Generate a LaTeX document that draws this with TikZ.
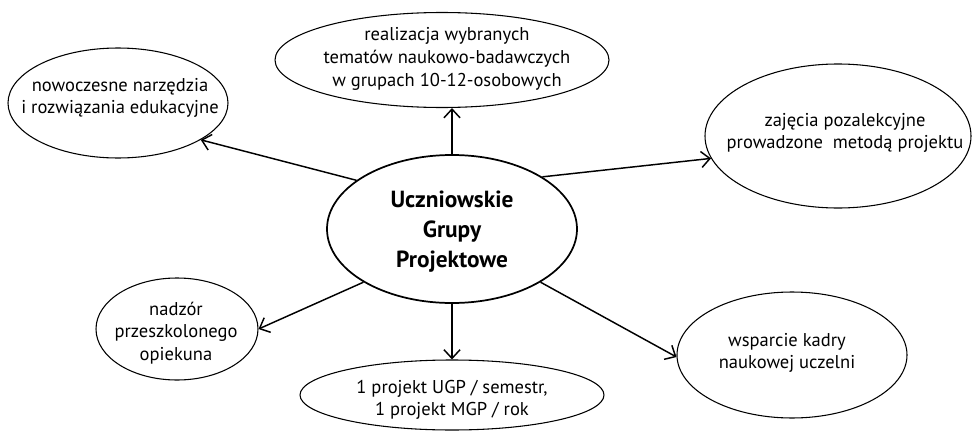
\documentclass[tikz,border=0pt]{standalone}
\usepackage{fontspec}
\setmainfont{PT Sans}
\usetikzlibrary{shapes.geometric,arrows.meta}
\tikzset{
  oval/.style={draw, ellipse, line width=0.8pt, inner sep=0pt},
  lbl/.style={align=center, font=\fontsize{13.9}{17}\selectfont, inner sep=0pt},
  arr/.style={-{Straight Barb[length=6.5pt,width=12pt]}, line width=1.1pt},
}
\begin{document}
\begin{tikzpicture}[x=0.75pt,y=-0.75pt]
\useasboundingbox[fill=white] (0,0) rectangle (975,432);
% ellipses
\node[oval, line width=1.3pt, minimum width=187.5pt, minimum height=111pt] (c) at (452,229) {};
\node[oval, minimum width=165pt, minimum height=82.5pt] (nw) at (118,103) {};
\node[oval, minimum width=250.5pt, minimum height=71.25pt] (top) at (442,60) {};
\node[oval, minimum width=199.5pt, minimum height=108pt] (ze) at (838,136) {};
\node[oval, minimum width=172.5pt, minimum height=94.5pt] (ws) at (792,355) {};
\node[oval, minimum width=121.5pt, minimum height=76.5pt] (nd) at (177,329) {};
\node[oval, minimum width=228pt, minimum height=52.5pt] (bt) at (452,395) {};
% texts
\node[align=center, font=\bfseries\fontsize{17.5}{22.5}\selectfont, inner sep=0pt] (ct) at (452,232) {Uczniowskie\\Grupy\\Projektowe};
\node[lbl] (nwt) at (120,98) {nowoczesne narzędzia\\i rozwiązania edukacyjne};
\node[lbl] (topt) at (447,59) {realizacja wybranych\\tematów naukowo-badawczych\\w grupach 10-12-osobowych};
\node[lbl] (zet) at (845,133) {zajęcia pozalekcyjne\\prowadzone\ \ metodą projektu};
\node[lbl] (wst) at (787,353) {wsparcie kadry\\naukowej uczelni};
\node[lbl] (ndt) at (176,333) {nadzór\\przeszkolonego\\opiekuna};
\node[lbl] (btt) at (452,400) {1 projekt UGP / semestr,\\1 projekt MGP / rok};
% arrows
\draw[arr] (c.153) -- (nw.-24);
\draw[arr] (c.90) -- (c.90 |- top.south);
\draw[arr] (c.30) -- (ze.190);
\draw[arr] (c.-31) -- (ws.181);
\draw[arr] (c.211) -- (nd.0);
\draw[arr] (c.270) -- (c.270 |- bt.north);
\end{tikzpicture}
\end{document}
